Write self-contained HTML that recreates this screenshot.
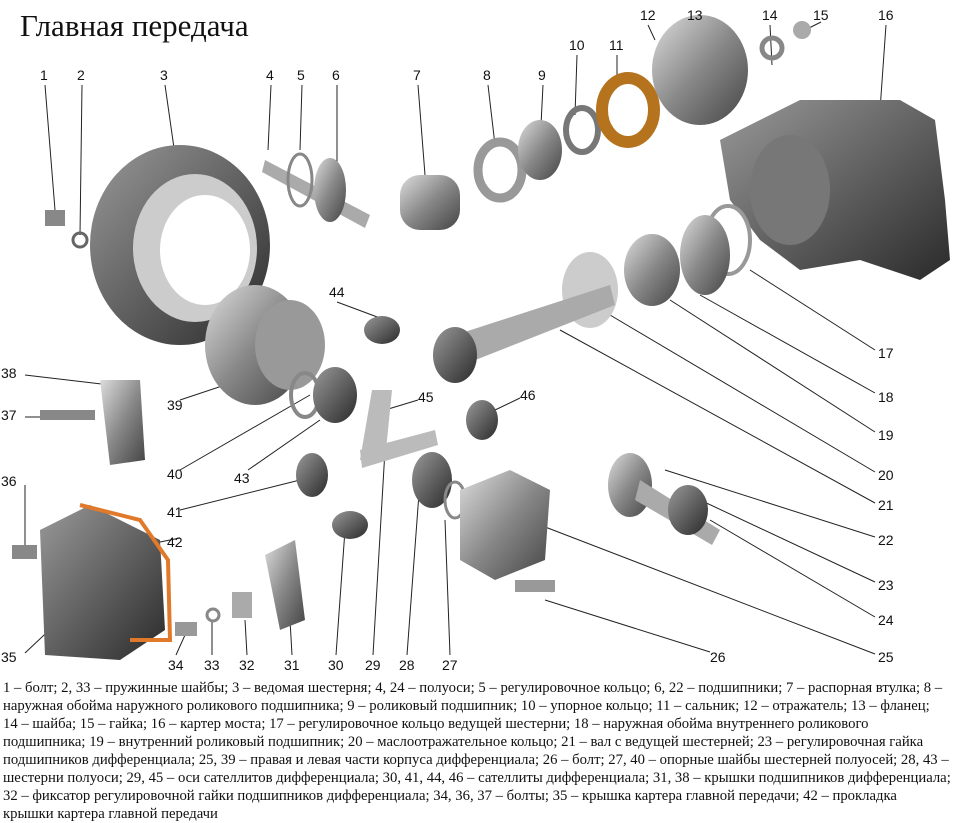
<!DOCTYPE html>
<html><head><meta charset="utf-8"><style>
body{margin:0;width:960px;height:823px;background:#fff;position:relative;overflow:hidden;font-family:"Liberation Serif",serif}
.t{position:absolute;left:20px;top:8px;font-size:31px;color:#111}
.cap{position:absolute;left:3px;top:679px;font-size:14.7px;line-height:18px;white-space:nowrap;color:#111}
svg{position:absolute;left:0;top:0}
svg text{font-family:"Liberation Sans",sans-serif;font-size:14px;fill:#111}
</style></head><body>
<div class="t">Главная передача</div>
<svg width="960" height="680">
<defs>
<linearGradient id="g" x1="0" y1="0" x2="1" y2="1"><stop offset="0" stop-color="#ddd"/><stop offset=".5" stop-color="#888"/><stop offset="1" stop-color="#444"/></linearGradient>
<linearGradient id="d" x1="0" y1="0" x2="1" y2="1"><stop offset="0" stop-color="#999"/><stop offset="1" stop-color="#2a2a2a"/></linearGradient>
</defs>
<g stroke="#222" stroke-width="1" fill="none">
<path d="M45 85 L55 210 M82 85 L80 235 M165 85 L175 155 M271 85 L268 150 M302 85 L300 150 M337 85 L337 170 M418 85 L425 175 M488 85 L495 145 M543 85 L540 145 M577 55 L575 115 M617 55 L617 85 M648 25 L655 40 M695 25 L705 45 M770 25 L772 65 M821 22 L805 30 M886 25 L880 110 M875 350 L750 270 M875 393 L700 295 M875 432 L670 300 M875 472 L610 315 M875 503 L560 330 M875 537 L665 470 M875 582 L700 500 M875 617 L710 520 M875 654 L540 525 M710 652 L545 600 M450 655 L445 520 M407 655 L420 480 M373 655 L385 450 M336 655 L345 530 M292 655 L290 620 M247 655 L245 620 M212 655 L212 622 M176 655 L185 635 M25 653 L60 620 M25 485 L25 545 M25 417 L45 417 M25 375 L110 385 M180 400 L240 380 M180 470 L310 395 M180 510 L300 480 M180 538 L145 545 M248 470 L320 420 M337 302 L380 318 M418 400 L385 410 M520 398 L495 410"/>
</g>
<ellipse cx="180" cy="245" rx="90" ry="100" fill="url(#d)"/>
<ellipse cx="195" cy="248" rx="62" ry="74" fill="#ccc"/>
<ellipse cx="205" cy="250" rx="45" ry="55" fill="#fff"/>
<rect x="45" y="210" width="20" height="16" fill="#888"/><ellipse cx="80" cy="240" rx="7" ry="7" fill="none" stroke="#666" stroke-width="3"/>
<ellipse cx="255" cy="345" rx="50" ry="60" fill="url(#g)"/>
<ellipse cx="290" cy="345" rx="35" ry="45" fill="#999"/>
<path d="M265 160 L370 215 L365 228 L262 172Z" fill="#aaa"/>
<ellipse cx="330" cy="190" rx="16" ry="32" fill="url(#g)"/><ellipse cx="300" cy="180" rx="12" ry="26" fill="none" stroke="#888" stroke-width="3"/>
<rect x="400" y="175" width="60" height="55" rx="20" fill="url(#g)"/>
<ellipse cx="500" cy="170" rx="22" ry="28" fill="none" stroke="#999" stroke-width="9"/>
<ellipse cx="540" cy="150" rx="22" ry="30" fill="url(#g)"/>
<ellipse cx="582" cy="130" rx="16" ry="22" fill="none" stroke="#777" stroke-width="6"/>
<ellipse cx="628" cy="110" rx="26" ry="32" fill="none" stroke="#b5731e" stroke-width="12"/>
<ellipse cx="700" cy="70" rx="48" ry="55" fill="url(#g)"/>
<circle cx="772" cy="48" r="10" fill="none" stroke="#888" stroke-width="5"/>
<circle cx="802" cy="30" r="9" fill="#aaa"/>
<path d="M720 140 L800 100 L900 100 L935 120 L945 200 L950 260 L920 280 L860 260 L800 270 L760 240 L730 200Z" fill="url(#d)"/>
<ellipse cx="790" cy="190" rx="40" ry="55" fill="#777"/>
<ellipse cx="728" cy="240" rx="22" ry="34" fill="none" stroke="#999" stroke-width="4"/>
<ellipse cx="705" cy="255" rx="25" ry="40" fill="url(#g)"/>
<ellipse cx="652" cy="270" rx="28" ry="36" fill="url(#g)"/>
<ellipse cx="590" cy="290" rx="28" ry="38" fill="#ccc"/>
<path d="M440 340 L610 285 L615 305 L450 370Z" fill="#aaa"/>
<ellipse cx="455" cy="355" rx="22" ry="28" fill="url(#d)"/>
<ellipse cx="382" cy="330" rx="18" ry="14" fill="url(#d)"/>
<ellipse cx="482" cy="420" rx="16" ry="20" fill="url(#d)"/>
<path d="M100 380 L140 380 L145 460 L110 465Z" fill="url(#g)"/><rect x="40" y="410" width="55" height="10" fill="#888"/>
<ellipse cx="305" cy="395" rx="14" ry="22" fill="none" stroke="#888" stroke-width="4"/>
<ellipse cx="335" cy="395" rx="22" ry="28" fill="url(#d)"/>
<path d="M372 390 L392 390 L385 460 L360 460Z" fill="#bbb"/><path d="M360 450 L435 430 L438 445 L362 468Z" fill="#bbb"/>
<ellipse cx="312" cy="475" rx="16" ry="22" fill="url(#d)"/>
<path d="M40 530 L90 505 L160 540 L165 630 L120 660 L45 655Z" fill="url(#d)"/>
<path d="M80 505 L140 520 L168 560 L170 640 L130 640" fill="none" stroke="#e07a2a" stroke-width="4"/>
<rect x="12" y="545" width="25" height="14" fill="#888"/>
<rect x="175" y="622" width="22" height="14" fill="#999"/><circle cx="213" cy="615" r="6" fill="none" stroke="#888" stroke-width="3"/>
<rect x="232" y="592" width="20" height="26" fill="#aaa"/>
<path d="M265 555 L295 540 L305 620 L280 630Z" fill="url(#g)"/>
<ellipse cx="350" cy="525" rx="18" ry="14" fill="url(#d)"/>
<ellipse cx="432" cy="480" rx="20" ry="28" fill="url(#d)"/>
<ellipse cx="455" cy="500" rx="10" ry="18" fill="none" stroke="#888" stroke-width="3"/>
<path d="M460 490 L510 470 L550 490 L545 560 L495 580 L460 560Z" fill="url(#g)"/>
<rect x="515" y="580" width="40" height="12" fill="#999"/>
<ellipse cx="630" cy="485" rx="22" ry="32" fill="url(#g)"/>
<path d="M640 480 L720 530 L712 545 L635 500Z" fill="#aaa"/>
<ellipse cx="688" cy="510" rx="20" ry="25" fill="url(#d)"/>
<g>
<text x="40" y="80">1</text><text x="77" y="80">2</text><text x="160" y="80">3</text><text x="266" y="80">4</text><text x="297" y="80">5</text><text x="332" y="80">6</text><text x="413" y="80">7</text><text x="483" y="80">8</text><text x="538" y="80">9</text><text x="569" y="50">10</text><text x="609" y="50">11</text><text x="640" y="20">12</text><text x="687" y="20">13</text><text x="762" y="20">14</text><text x="813" y="20">15</text><text x="878" y="20">16</text>
<text x="878" y="358">17</text><text x="878" y="402">18</text><text x="878" y="440">19</text><text x="878" y="480">20</text><text x="878" y="510">21</text><text x="878" y="545">22</text><text x="878" y="590">23</text><text x="878" y="625">24</text><text x="878" y="662">25</text><text x="710" y="662">26</text>
<text x="442" y="670">27</text><text x="399" y="670">28</text><text x="365" y="670">29</text><text x="328" y="670">30</text><text x="284" y="670">31</text><text x="239" y="670">32</text><text x="204" y="670">33</text><text x="168" y="670">34</text><text x="1" y="662">35</text><text x="1" y="486">36</text><text x="1" y="420">37</text><text x="1" y="378">38</text>
<text x="167" y="410">39</text><text x="167" y="479">40</text><text x="167" y="517">41</text><text x="167" y="547">42</text><text x="234" y="483">43</text><text x="329" y="297">44</text><text x="418" y="402">45</text><text x="520" y="400">46</text>
</g>
</svg>
<div class="cap">1 – болт; 2, 33 – пружинные шайбы; 3 – ведомая шестерня; 4, 24 – полуоси; 5 – регулировочное кольцо; 6, 22 – подшипники; 7 – распорная втулка; 8 –<br>наружная обойма наружного роликового подшипника; 9 – роликовый подшипник; 10 – упорное кольцо; 11 – сальник; 12 – отражатель; 13 – фланец;<br>14 – шайба; 15 – гайка; 16 – картер моста; 17 – регулировочное кольцо ведущей шестерни; 18 – наружная обойма внутреннего роликового<br>подшипника; 19 – внутренний роликовый подшипник; 20 – маслоотражательное кольцо; 21 – вал с ведущей шестерней; 23 – регулировочная гайка<br>подшипников дифференциала; 25, 39 – правая и левая части корпуса дифференциала; 26 – болт; 27, 40 – опорные шайбы шестерней полуосей; 28, 43 –<br>шестерни полуоси; 29, 45 – оси сателлитов дифференциала; 30, 41, 44, 46 – сателлиты дифференциала; 31, 38 – крышки подшипников дифференциала;<br>32 – фиксатор регулировочной гайки подшипников дифференциала; 34, 36, 37 – болты; 35 – крышка картера главной передачи; 42 – прокладка<br>крышки картера главной передачи</div>
</body></html>
